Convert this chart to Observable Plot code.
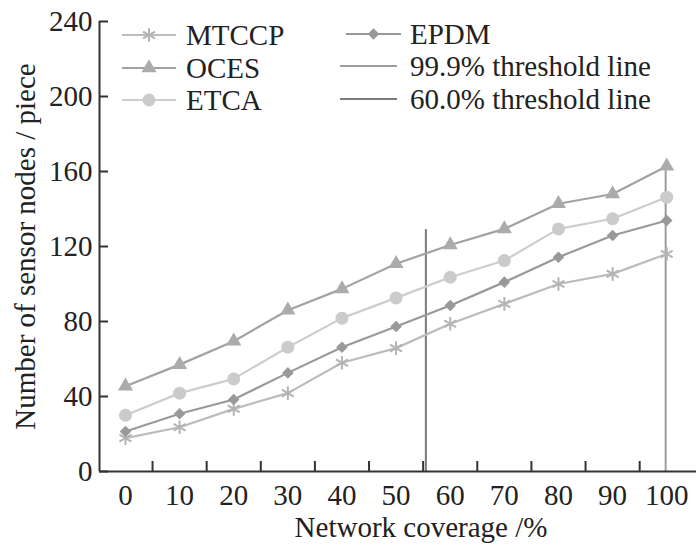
<!DOCTYPE html>
<html>
<head>
<meta charset="utf-8">
<script src="https://cdn.jsdelivr.net/npm/d3@7"></script>
<script src="https://cdn.jsdelivr.net/npm/@observablehq/plot@0.6"></script>
<style>
  html, body { margin: 0; padding: 0; background: #fff; }
  #wrap { position: relative; width: 696px; height: 547px; }
  #legend { position: absolute; left: 0; top: 0; pointer-events: none; }
</style>
</head>
<body>
<div id="wrap"></div>
<script>
// ---- data ----
const coverage = [0, 10, 20, 30, 40, 50, 60, 70, 80, 90, 100];
const mtccp = [17.8, 23.6, 33.4, 41.8, 58, 65.8, 78.8, 89.4, 100, 105.4, 116];
const oces  = [45.5, 57, 69.5, 86, 97.4, 110.8, 120.8, 129.4, 142.8, 148, 162.8];
const etca  = [30, 41.8, 49.4, 66.3, 81.8, 92.6, 103.6, 112.5, 129.4, 134.8, 146.3];
const epdm  = [21.3, 30.8, 38.4, 52.6, 66.3, 77.3, 88.5, 101, 114.3, 125.9, 133.9];
const seriesNames = ["MTCCP", "OCES", "ETCA", "EPDM"];
const thresholdNames = ["99.9% threshold line", "60.0% threshold line"];
const thresholdX = [99.8, 55.5];
const thresholdTop = [165, 129];
const yTicks = [0, 40, 80, 120, 160, 200, 240];
const xTickMarks = [5, 15, 25, 35, 45, 55, 65, 75, 85, 95];
const xDomain = [-4.8, 105.5];
const yDomain = [0, 240];
const xTitle = "Network coverage /%";
const yTitle = "Number of sensor nodes / piece";

// ---- styles ----
const styles = {
  MTCCP: {color: "#bcbcbc", symbol: "asterisk", r: 6.5, fill: "none", stroke: "#b4b4b4"},
  OCES:  {color: "#a2a2a2", symbol: "triangle", r: 5.6, fill: "#ababab", stroke: "none"},
  ETCA:  {color: "#cdcdcd", symbol: "circle", r: 6.5, fill: "#cbcbcb", stroke: "none"},
  EPDM:  {color: "#999999", symbol: "diamond2", r: 5.2, fill: "#999999", stroke: "none"}
};
const thrColors = ["#9c9c9c", "#7a7a7a"];
const axisColor = "#333";
const font = "Liberation Serif, Times New Roman, serif";

const valuesBy = {MTCCP: mtccp, OCES: oces, ETCA: etca, EPDM: epdm};
const rows = seriesNames.flatMap(s => coverage.map((c, i) => ({series: s, x: c, y: valuesBy[s][i]})));
const thresholds = thresholdNames.map((n, i) => ({name: n, x: thresholdX[i], top: thresholdTop[i], color: thrColors[i]}));

const marks = [];
// axes
marks.push(Plot.axisY({ticks: yTicks, tickSize: 0, tickPadding: 7, label: null, fontSize: 29, fill: "#222"}));
marks.push(Plot.axisY({ticks: yTicks, tickSize: -9, text: null, label: null, stroke: axisColor, strokeWidth: 2}));
marks.push(Plot.axisX({ticks: coverage, tickSize: 0, tickPadding: 13, label: null, fontSize: 29, fill: "#222", tickFormat: d => String(d)}));
marks.push(Plot.axisX({ticks: xTickMarks, tickSize: -10, text: null, label: null, stroke: axisColor, strokeWidth: 2}));
// threshold lines
for (const t of thresholds) {
  marks.push(Plot.ruleX([t], {x: "x", y1: 0, y2: "top", stroke: t.color, strokeWidth: 2}));
}
// series
for (const s of seriesNames) {
  const st = styles[s];
  const d = rows.filter(r => r.series === s);
  marks.push(Plot.line(d, {x: "x", y: "y", stroke: st.color, strokeWidth: 2.2}));
}
for (const s of seriesNames) {
  const st = styles[s];
  const d = rows.filter(r => r.series === s);
  marks.push(Plot.dot(d, {x: "x", y: "y", symbol: st.symbol, r: st.r, fill: st.fill, stroke: st.stroke, strokeWidth: 2}));
}
// axis lines
marks.push(Plot.ruleY([yDomain[0]], {stroke: axisColor, strokeWidth: 2}));
marks.push(Plot.ruleX([xDomain[0]], {stroke: axisColor, strokeWidth: 2}));
// titles
marks.push(Plot.text([xTitle], {frameAnchor: "bottom", dx: 23, dy: 56, fontSize: 29, fill: "#222", textAnchor: "middle", lineAnchor: "middle"}));
marks.push(Plot.text([yTitle], {frameAnchor: "left", dx: -74, rotate: -90, fontSize: 29, fill: "#222", textAnchor: "middle", lineAnchor: "middle"}));

const chart = Plot.plot({
  width: 696, height: 547,
  marginLeft: 99, marginRight: 0, marginTop: 21, marginBottom: 76,
  style: {fontFamily: font, fontSize: "29px", color: axisColor, background: "#fff", overflow: "visible"},
  x: {domain: xDomain},
  y: {domain: yDomain},
  marks
});
document.getElementById("wrap").appendChild(chart);

// ---- legend overlay (real text) ----
const leg = d3.select("#wrap").append("svg").attr("id", "legend")
  .attr("width", 696).attr("height", 130)
  .style("font-family", font).style("font-size", "29px");

const legendItems = [
  {label: "MTCCP", type: "series", key: "MTCCP", x0: 122, x1: 176, tx: 186, y: 35},
  {label: "OCES",  type: "series", key: "OCES",  x0: 122, x1: 176, tx: 186, y: 68},
  {label: "ETCA",  type: "series", key: "ETCA",  x0: 122, x1: 176, tx: 186, y: 100},
  {label: "EPDM",  type: "series", key: "EPDM",  x0: 346, x1: 401, tx: 410, y: 34},
  {label: thresholdNames[0], type: "thr", idx: 0, x0: 340, x1: 397, tx: 410, y: 66},
  {label: thresholdNames[1], type: "thr", idx: 1, x0: 340, x1: 397, tx: 410, y: 99}
];
const symMap = {asterisk: d3.symbolAsterisk, triangle: d3.symbolTriangle, circle: d3.symbolCircle, diamond2: d3.symbolDiamond2};
for (const it of legendItems) {
  const g = leg.append("g");
  const color = it.type === "series" ? styles[it.key].color : thrColors[it.idx];
  g.append("line").attr("x1", it.x0).attr("x2", it.x1).attr("y1", it.y).attr("y2", it.y)
    .attr("stroke", color).attr("stroke-width", 2.2);
  if (it.type === "series") {
    const st = styles[it.key];
    g.append("path")
      .attr("transform", `translate(${(it.x0 + it.x1) / 2},${it.y})`)
      .attr("d", d3.symbol(symMap[st.symbol], st.r * st.r * Math.PI)())
      .attr("fill", st.fill).attr("stroke", st.stroke).attr("stroke-width", 2);
  }
  g.append("text").attr("x", it.tx).attr("y", it.y).attr("dy", "0.35em")
    .attr("fill", "#222").text(it.label);
}
</script>
</body>
</html>
